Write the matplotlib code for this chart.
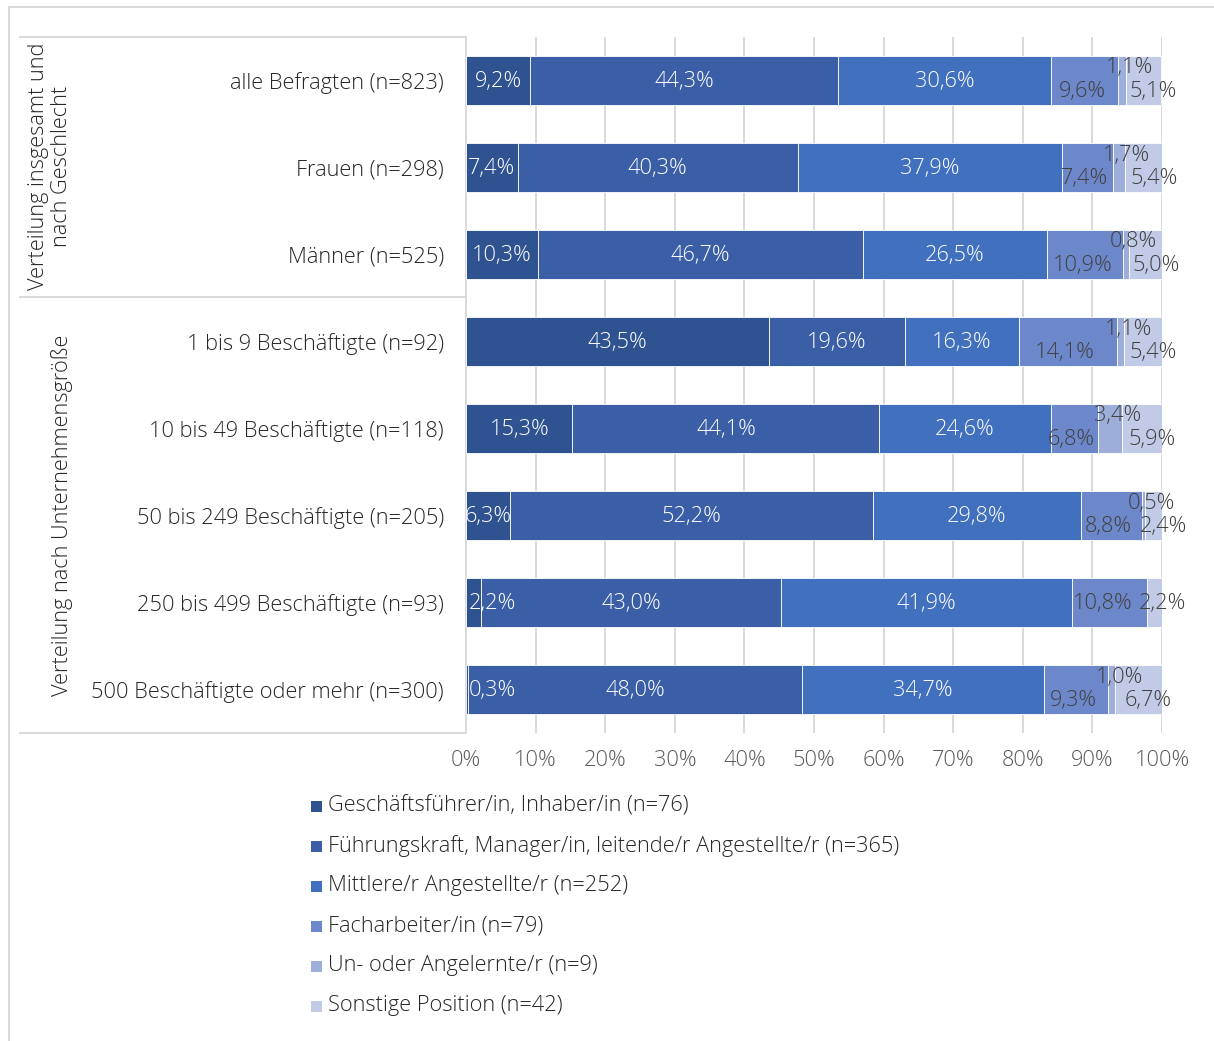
import matplotlib
matplotlib.use("Agg")
import matplotlib.pyplot as plt
from matplotlib import font_manager
from matplotlib.patches import Rectangle
from matplotlib.lines import Line2D
import numpy as np

# ---- data ----------------------------------------------------------------
categories = [
    "alle Befragten (n=823)",
    "Frauen (n=298)",
    "Männer (n=525)",
    "1 bis 9 Beschäftigte (n=92)",
    "10 bis 49 Beschäftigte (n=118)",
    "50 bis 249 Beschäftigte (n=205)",
    "250 bis 499 Beschäftigte (n=93)",
    "500 Beschäftigte oder mehr (n=300)",
]

series_names = [
    "Geschäftsführer/in, Inhaber/in (n=76)",
    "Führungskraft, Manager/in, leitende/r Angestellte/r (n=365)",
    "Mittlere/r Angestellte/r (n=252)",
    "Facharbeiter/in (n=79)",
    "Un- oder Angelernte/r (n=9)",
    "Sonstige Position (n=42)",
]

geschaeftsfuehrer = [9.2, 7.4, 10.3, 43.5, 15.3, 6.3, 2.2, 0.3]
fuehrungskraft = [44.3, 40.3, 46.7, 19.6, 44.1, 52.2, 43.0, 48.0]
mittlere_angestellte = [30.6, 37.9, 26.5, 16.3, 24.6, 29.8, 41.9, 34.7]
facharbeiter = [9.6, 7.4, 10.9, 14.1, 6.8, 8.8, 10.8, 9.3]
angelernte = [1.1, 1.7, 0.8, 1.1, 3.4, 0.5, 0.0, 1.0]
sonstige = [5.1, 5.4, 5.0, 5.4, 5.9, 2.4, 2.2, 6.7]

group_labels = ["Verteilung insgesamt und\nnach Geschlecht",
                "Verteilung nach Unternehmensgröße"]

x_ticks = [0, 10, 20, 30, 40, 50, 60, 70, 80, 90, 100]
x_tick_labels = [f"{t}%" for t in x_ticks]

# ---- style ---------------------------------------------------------------
colors = ["#2F5290", "#3A5FA7", "#4170BF", "#6D88CA", "#9EAEDA", "#C1CAE6"]
label_colors = ["white", "white", "white", "#404040", "#404040", "#404040"]
grid_color = "#D9D9D9"
text_color = "#262626"
tick_color = "#595959"


def pick_font():
    for fam in ["Lato", "Open Sans", "Roboto"]:
        path = font_manager.findfont(
            font_manager.FontProperties(family=fam, weight="light"),
            fallback_to_default=False)
        if "light" in path.lower():
            return fam, "light"
    return "Lato", "normal"


FAMILY, WEIGHT = pick_font()
plt.rcParams["font.family"] = [FAMILY, "DejaVu Sans"]
plt.rcParams["font.weight"] = WEIGHT

FS = 15.7
W, H = 1214, 1041
fig = plt.figure(figsize=(W / 100, H / 100), dpi=100)
fig.patch.set_facecolor("white")

# plot area in pixel geometry
x0, x1, ytop, ybot = 466, 1162, 37, 733
ax = fig.add_axes([x0 / W, 1 - ybot / H, (x1 - x0) / W, (ybot - ytop) / H])

values = [geschaeftsfuehrer, fuehrungskraft, mittlere_angestellte,
          facharbeiter, angelernte, sonstige]
y = np.arange(len(categories))
bar_h = 0.56

left = np.zeros(len(categories))
for vals, col in zip(values, colors):
    v = np.array(vals)
    ax.barh(y, v, left=left, height=bar_h, color=col,
            edgecolor="white", linewidth=0.6, zorder=3)
    left += v

# ---- value labels --------------------------------------------------------
def fmt(v):
    return f"{v:.1f}%".replace(".", ",")

starts = np.cumsum([np.zeros(len(categories))] + [np.array(v) for v in values], axis=0)
for s, vals in enumerate(values):
    for i, v in enumerate(vals):
        if v <= 0:
            continue
        seg0 = starts[s][i]
        cx = seg0 + v / 2
        dx, dy = 0, 0
        if s == 0 and v < 3:
            cx = 3.8
        staggered = angelernte[i] > 0
        if s == 3:
            dx, dy = (-2, -8) if staggered else (-5, -1)
        elif s == 4:
            dx, dy = 5.5, 9
        elif s == 5:
            dx, dy = (7, -8) if staggered else (5, -1)
        else:
            dy = -1
        ax.annotate(fmt(v), xy=(cx, i), xytext=(dx, dy),
                    textcoords="offset points", ha="center", va="center",
                    fontsize=FS, color=label_colors[s], zorder=5,
                    clip_on=(s == 0), annotation_clip=False)

# ---- axes styling ---------------------------------------------------------
ax.set_xlim(0, 100)
ax.set_ylim(len(categories) - 0.5, -0.5)
ax.set_xticks(x_ticks)
ax.set_xticklabels(x_tick_labels, fontsize=FS, color=tick_color)
ax.set_yticks(y)
ax.set_yticklabels(categories, fontsize=FS, color=text_color)
ax.tick_params(axis="x", length=0, pad=12)
ax.tick_params(axis="y", length=0, pad=16)
ax.xaxis.grid(True, color=grid_color, linewidth=1.4, zorder=0)
ax.set_axisbelow(True)
for side in ["top", "right", "bottom"]:
    ax.spines[side].set_visible(False)
ax.spines["left"].set_color(grid_color)
ax.spines["left"].set_linewidth(1.4)

# ---- category table lines and group titles -------------------------------
def fx(px):
    return px / W


def fy(py):
    return 1 - py / H


for py in (ytop, 297, ybot):
    fig.add_artist(Line2D([fx(20), fx(x0)], [fy(py), fy(py)],
                          color=grid_color, linewidth=1.4))

fig.text(fx(50), fy(166), group_labels[0], rotation=90, ha="center",
         va="center", fontsize=FS, color=text_color, linespacing=1.1)
fig.text(fx(62), fy(515), group_labels[1], rotation=90, ha="center",
         va="center", fontsize=FS, color=text_color)

# outer frame
fig.add_artist(Line2D([fx(9), fx(9)], [fy(7), fy(H)], color=grid_color, linewidth=1.4))
fig.add_artist(Line2D([fx(9), fx(W)], [fy(7), fy(7)], color=grid_color, linewidth=1.4))

# ---- legend --------------------------------------------------------------
leg_y0, leg_step = 806, 40
for k, (name, col) in enumerate(zip(series_names, colors)):
    cy = leg_y0 + k * leg_step
    fig.add_artist(Rectangle((fx(311), fy(cy + 5.5)), 11 / W, 11 / H,
                             facecolor=col, edgecolor="none"))
    fig.text(fx(328), fy(cy), name, ha="left", va="center",
             fontsize=FS, color=text_color)

fig.savefig("out.png", dpi=100, facecolor="white")
